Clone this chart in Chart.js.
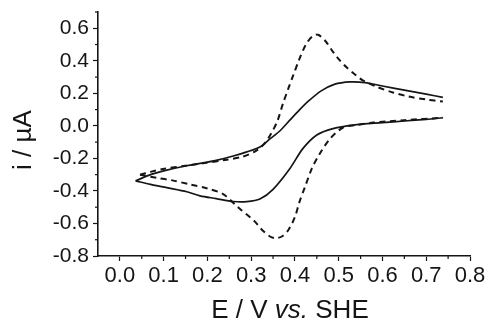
<!DOCTYPE html>
<html><head><meta charset="utf-8">
<script src="https://cdn.jsdelivr.net/npm/chart.js@4"></script>
<style>html,body{margin:0;padding:0;background:#fff;}canvas{display:block;}</style>
</head><body>
<canvas id="c" width="490" height="323"></canvas>
<script>
// Solid curve: anodic (upper) and cathodic (lower) branches, E / V vs. SHE and i / µA
const solidUpperE = [0.036,0.07,0.107,0.153,0.19,0.22,0.259,0.29,0.32,0.343,0.366,0.39,0.411,0.43,0.46,0.49,0.526,0.56,0.6,0.65,0.7,0.738];
const solidUpperI = [-0.338,-0.30,-0.272,-0.245,-0.228,-0.212,-0.185,-0.16,-0.13,-0.08,-0.03,0.04,0.10,0.15,0.215,0.255,0.27,0.266,0.245,0.22,0.195,0.175];
const solidLowerE = [0.036,0.07,0.107,0.153,0.183,0.22,0.259,0.29,0.32,0.35,0.389,0.418,0.45,0.487,0.533,0.6,0.65,0.7,0.738];
const solidLowerI = [-0.338,-0.36,-0.38,-0.405,-0.43,-0.447,-0.465,-0.466,-0.45,-0.39,-0.26,-0.14,-0.056,-0.017,0.005,0.02,0.03,0.04,0.05];
// Dashed curve: upper and lower branches
const dashedUpperE = [0.046,0.07,0.098,0.15,0.19,0.24,0.28,0.31,0.33,0.345,0.36,0.373,0.385,0.396,0.41,0.425,0.44,0.453,0.47,0.487,0.50,0.518,0.54,0.555,0.587,0.624,0.66,0.70,0.738];
const dashedUpperI = [-0.30,-0.283,-0.265,-0.245,-0.23,-0.21,-0.19,-0.155,-0.11,-0.05,0.03,0.14,0.23,0.31,0.41,0.50,0.55,0.56,0.52,0.455,0.41,0.36,0.31,0.28,0.24,0.205,0.18,0.162,0.15];
const dashedLowerE = [0.046,0.085,0.12,0.16,0.20,0.236,0.274,0.29,0.309,0.325,0.343,0.355,0.37,0.385,0.40,0.41,0.423,0.439,0.457,0.48,0.51,0.54,0.58,0.65,0.738];
const dashedLowerI = [-0.30,-0.32,-0.335,-0.36,-0.385,-0.42,-0.51,-0.545,-0.59,-0.64,-0.68,-0.69,-0.68,-0.64,-0.56,-0.47,-0.375,-0.26,-0.17,-0.08,-0.01,0.005,0.02,0.035,0.05];

const xMajorTicks = [0.0,0.1,0.2,0.3,0.4,0.5,0.6,0.7,0.8];
const xMinorTicks = [0.05,0.15,0.25,0.35,0.45,0.55,0.65,0.75];
const yMajorTicks = [-0.8,-0.6,-0.4,-0.2,0.0,0.2,0.4,0.6];
const yMinorTicks = [-0.7,-0.5,-0.3,-0.1,0.1,0.3,0.5,0.7];
const xTitleParts = [["E / V ","normal"],["vs.","italic"],[" SHE","normal"]];
const yTitle = "i / µA";

const FONT = "'Liberation Sans', Arial, Helvetica, sans-serif";
const INK = '#151515';
Chart.defaults.font.family = FONT;
Chart.defaults.color = INK;

const toPts = (xs, ys) => xs.map((x, k) => ({x: x, y: ys[k]}));

const extras = {
  id: 'extras',
  afterDraw(chart) {
    const ctx = chart.ctx, xs = chart.scales.x, ys = chart.scales.y, ca = chart.chartArea;
    ctx.save();
    ctx.strokeStyle = INK; ctx.lineWidth = 1.2;
    xMinorTicks.forEach(v => { const p = xs.getPixelForValue(v); ctx.beginPath(); ctx.moveTo(p, xs.top); ctx.lineTo(p, xs.top + 3); ctx.stroke(); });
    yMinorTicks.forEach(v => { const p = ys.getPixelForValue(v); ctx.beginPath(); ctx.moveTo(ys.right, p); ctx.lineTo(ys.right - 3, p); ctx.stroke(); });
    const size = 26;
    ctx.fillStyle = INK; ctx.textBaseline = 'middle'; ctx.textAlign = 'left';
    // x title with italic "vs."
    let total = 0;
    xTitleParts.forEach(([t, st]) => { ctx.font = st + ' ' + size + 'px ' + FONT; total += ctx.measureText(t).width; });
    let x = (ca.left + ca.right) / 2 + 6 - total / 2;
    const y = xs.bottom - 12;
    xTitleParts.forEach(([t, st]) => { ctx.font = st + ' ' + size + 'px ' + FONT; ctx.fillText(t, x, y); x += ctx.measureText(t).width; });
    // y title, rotated
    ctx.font = 'normal ' + size + 'px ' + FONT;
    ctx.translate(ys.left + 24, (ca.top + ca.bottom) / 2 + 6);
    ctx.rotate(-Math.PI / 2);
    ctx.textAlign = 'center';
    ctx.fillText(yTitle, 0, 0);
    ctx.restore();
  }
};

const solidStyle = {showLine: true, borderColor: INK, borderWidth: 1.7, pointRadius: 0, tension: 0.3, fill: false};
const dashedStyle = {showLine: true, borderColor: INK, borderWidth: 2, borderDash: [6, 4.5], pointRadius: 0, tension: 0.3, fill: false};

new Chart(document.getElementById('c'), {
  type: 'scatter',
  data: {
    datasets: [
      Object.assign({data: toPts(dashedUpperE, dashedUpperI)}, dashedStyle),
      Object.assign({data: toPts(dashedLowerE, dashedLowerI)}, dashedStyle),
      Object.assign({data: toPts(solidUpperE, solidUpperI)}, solidStyle),
      Object.assign({data: toPts(solidLowerE, solidLowerI)}, solidStyle)
    ]
  },
  options: {
    responsive: false, animation: false, devicePixelRatio: 1,
    layout: {padding: {left: 0, right: 20, top: 12, bottom: 0}},
    plugins: {legend: {display: false}, tooltip: {enabled: false}},
    scales: {
      x: {
        type: 'linear', min: -0.05, max: 0.8,
        afterBuildTicks: s => { s.ticks = xMajorTicks.map(v => ({value: v})); },
        afterFit: s => { s.height = 67; s.paddingLeft = 0; s.paddingRight = 0; },
        ticks: {autoSkip: false, maxRotation: 0, padding: 2, font: {size: 22}, color: INK, callback: v => v.toFixed(1)},
        grid: {drawOnChartArea: false, drawTicks: true, tickLength: 5, tickColor: INK, tickWidth: 1.2},
        border: {display: true, color: INK, width: 1.6},
        title: {display: false}
      },
      y: {
        type: 'linear', min: -0.8, max: 0.7,
        afterBuildTicks: s => { s.ticks = yMajorTicks.map(v => ({value: v})); },
        afterFit: s => { s.width = 98; s.paddingTop = 0; s.paddingBottom = 0; },
        ticks: {autoSkip: false, padding: 4, font: {size: 21}, color: INK, callback: v => v.toFixed(1)},
        grid: {drawOnChartArea: false, drawTicks: true, tickLength: 5, tickColor: INK, tickWidth: 1.2},
        border: {display: true, color: INK, width: 1.6},
        title: {display: false}
      }
    }
  },
  plugins: [extras]
});
</script>
</body></html>
